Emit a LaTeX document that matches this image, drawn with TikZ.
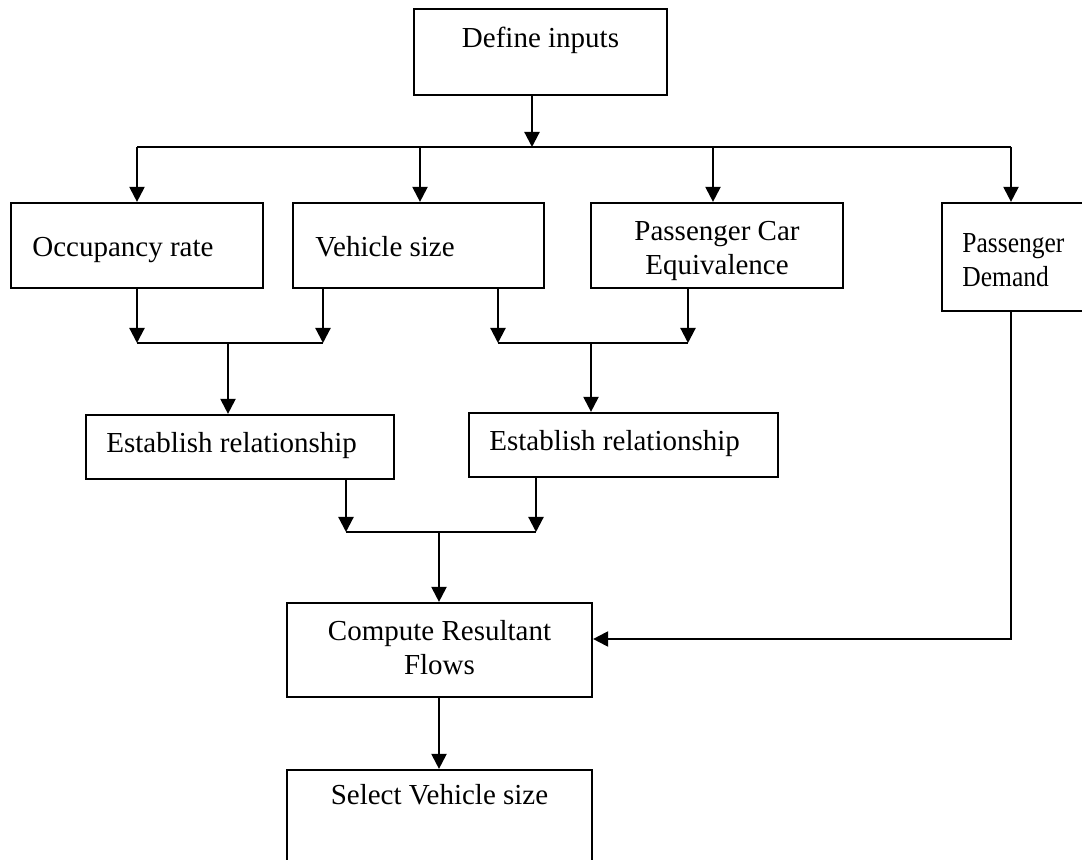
\documentclass[tikz,border=0pt]{standalone}
\usepackage{fontspec}
\setmainfont{Liberation Serif}
\newfontfamily\narrowserif[FakeStretch=0.88]{Liberation Serif}
\usetikzlibrary{arrows.meta}
\tikzset{
  box/.style={draw, line width=1.1pt, inner sep=0pt, rectangle},
  txt/.style={inner sep=0pt, font=\fontsize{14.5}{17}\selectfont},
  smalltxt/.style={inner sep=0pt, font=\narrowserif\fontsize{14.5}{17}\selectfont},
  ln/.style={line width=1.1pt},
  arr/.style={line width=1.1pt, -{Triangle[length=7.5pt,width=7.5pt]}}
}
\begin{document}
\begin{tikzpicture}[x=0.5pt,y=-0.5pt]
\fill[white] (0,0) rectangle (1082,860);
\useasboundingbox (0,0) rectangle (1082,860);
% boxes
\node[box, minimum width=126.5pt, minimum height=43pt] (def) at (540.5,52) {};
\node[box, minimum width=126pt, minimum height=42.5pt] (occ) at (137,245.5) {};
\node[box, minimum width=125.5pt, minimum height=42.5pt] (veh) at (418.5,245.5) {};
\node[box, minimum width=126pt, minimum height=42.5pt] (pce) at (717,245.5) {};
\node[box, minimum width=72pt, minimum height=54pt] (pd) at (1014,257) {};
\node[box, minimum width=154pt, minimum height=32pt] (est1) at (240,447) {};
\node[box, minimum width=154.5pt, minimum height=32pt] (est2) at (623.5,445) {};
\node[box, minimum width=152.5pt, minimum height=47pt] (comp) at (439.5,650) {};
\node[box, minimum width=152.5pt, minimum height=60pt] (sel) at (439.5,830) {};
% texts
\node[txt, anchor=base] (def-t) at (540.5,48) {Define inputs};
\node[txt, anchor=base west] (occ-t) at (32,257) {Occupancy rate};
\node[txt, anchor=base west] (veh-t) at (315,257) {Vehicle size};
\node[txt, anchor=base, align=center] (pce-t) at (717,275) {Passenger Car\\Equivalence};
\node[smalltxt, anchor=base west, align=left] (pd-t) at (962,287) {Passenger\\Demand};
\node[txt, anchor=base west] (est1-t) at (106,453) {Establish relationship};
\node[txt, anchor=base west] (est2-t) at (489,451) {Establish relationship};
\node[txt, anchor=base, align=center] (comp-t) at (439.5,675) {Compute Resultant\\Flows};
\node[txt, anchor=base] (sel-t) at (439.5,805) {Select Vehicle size};
% junction coordinates
\coordinate (j1) at (532,147);
\coordinate (j1L) at (137,147);
\coordinate (j1V) at (420,147);
\coordinate (j1P) at (713,147);
\coordinate (j1R) at (1011,147);
\coordinate (j2L) at (137,343);
\coordinate (j2R) at (323,343);
\coordinate (j2) at (228,343);
\coordinate (j3L) at (498,343);
\coordinate (j3R) at (688,343);
\coordinate (j3) at (591,343);
\coordinate (j4L) at (346,532);
\coordinate (j4R) at (536,532);
\coordinate (j4) at (439,532);
\coordinate (k) at (1011,639);
% connectors
\draw[arr] (def.south -| j1) -- (j1);
\draw[ln] (j1L) -- (j1R);
\draw[arr] (j1L) -- (occ.north -| j1L);
\draw[arr] (j1V) -- (veh.north -| j1V);
\draw[arr] (j1P) -- (pce.north -| j1P);
\draw[arr] (j1R) -- (pd.north -| j1R);
\draw[arr] (occ.south -| j2L) -- (j2L);
\draw[arr] (veh.south -| j2R) -- (j2R);
\draw[ln] (j2L) -- (j2R);
\draw[arr] (j2) -- (est1.north -| j2);
\draw[arr] (veh.south -| j3L) -- (j3L);
\draw[arr] (pce.south -| j3R) -- (j3R);
\draw[ln] (j3L) -- (j3R);
\draw[arr] (j3) -- (est2.north -| j3);
\draw[arr] (est1.south -| j4L) -- (j4L);
\draw[arr] (est2.south -| j4R) -- (j4R);
\draw[ln] (j4L) -- (j4R);
\draw[arr] (j4) -- (comp.north -| j4);
\draw[arr] (pd.south -| k) -- (k) -- (comp.east |- k);
\draw[arr] (comp.south -| j4) -- (sel.north -| j4);
\end{tikzpicture}
\end{document}
